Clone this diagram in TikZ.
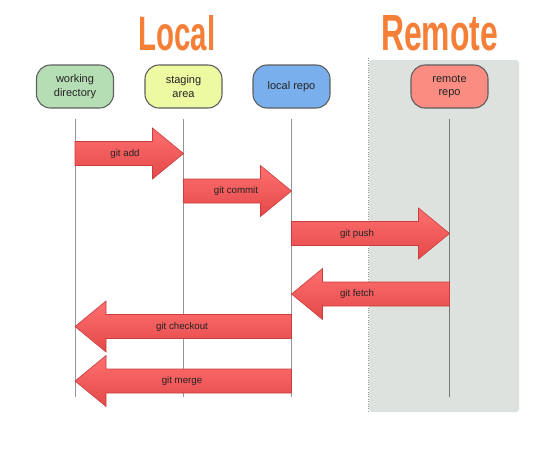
\documentclass[tikz,border=0pt]{standalone}
\usepackage{fontspec}
\setmainfont{Liberation Sans}
\usepackage{graphicx}
\usetikzlibrary{calc}
\definecolor{orangeT}{RGB}{245,127,55}
\definecolor{remotebg}{RGB}{221,226,222}
\definecolor{boxborder}{RGB}{95,95,95}
\definecolor{lifegray}{RGB}{150,150,150}
\definecolor{lifedark}{RGB}{120,120,120}
\definecolor{textdark}{RGB}{35,35,35}
\definecolor{wdfill}{RGB}{182,222,180}
\definecolor{safill}{RGB}{238,250,162}
\definecolor{lrfill}{RGB}{122,175,238}
\definecolor{rrfill}{RGB}{250,140,130}
\definecolor{arrowtop}{RGB}{255,112,112}
\definecolor{arrowbottom}{RGB}{228,72,72}
\definecolor{arrowborder}{RGB}{200,62,62}
\newcommand\gitarrow[5]{%
  \coordinate (t) at (#1 |- 0,#3);
  \coordinate (h) at (#2 |- 0,#3);
  \coordinate (b) at ($(h)!31pt!(t)$);
  \draw[garrow] ($(t)+(0,-12)$) -- ($(b)+(0,-12)$) -- ($(b)+(0,-25.5)$) -- (h)
     -- ($(b)+(0,25.5)$) -- ($(b)+(0,12)$) -- ($(t)+(0,12)$) -- cycle;
  \node[glabel] at (#4,#3) {#5};}
\begin{document}
\begin{tikzpicture}[x=1pt,y=-1pt,
  box/.style={draw=boxborder, line width=1.1pt, rounded corners=14pt,
    minimum width=77pt, minimum height=43pt, align=center, inner sep=0pt,
    font=\fontsize{11}{13.5}\selectfont, text=textdark},
  lifeline/.style={draw=lifegray, line width=0.8pt},
  garrow/.style={draw=arrowborder, line width=0.6pt, top color=arrowtop, bottom color=arrowbottom},
  glabel/.style={font=\fontsize{9.7}{11}\selectfont, text=textdark, inner sep=0pt},
  title/.style={text=orangeT, inner sep=0pt, font=\bfseries}]
\useasboundingbox (0,0) rectangle (553,451);
\fill[white] (0,0) rectangle (553,451);
% remote area
\fill[remotebg, rounded corners=3pt] (369,60) rectangle (519,412);
\draw[dotted, lifegray] (368,58) -- (368,413);
% titles
\node[title, anchor=base west] (tlocal) at (138,50) {\resizebox{77pt}{35pt}{Local}};
\node[title, anchor=base west] (tremote) at (381,50) {\resizebox{117pt}{35pt}{Remote}};
% participants
\node[box, fill=wdfill] (wd) at (75,86.5) {working\\directory};
\node[box, fill=safill] (sa) at (183.5,86.5) {staging\\area};
\node[box, fill=lrfill] (lr) at (291.5,86.5) {local repo};
\node[box, fill=rrfill] (rr) at (449.5,86.5) {remote\\repo};
% lifelines
\coordinate (bot) at (0,397);
\draw[lifeline] ($(wd.south)+(0,10)$) -- (wd.south |- bot);
\draw[lifeline] ($(sa.south)+(0,10)$) -- (sa.south |- bot);
\draw[lifeline] ($(lr.south)+(0,10)$) -- (lr.south |- bot);
\draw[lifeline, draw=lifedark, line width=1.2pt] ($(rr.south)+(0,10)$) -- (rr.south |- bot);
% arrows
\gitarrow{wd}{sa}{153.5}{125}{git add}
\gitarrow{sa}{lr}{191}{236}{git commit}
\gitarrow{lr}{rr}{233.5}{357}{git push}
\gitarrow{rr}{lr}{294}{357}{git fetch}
\gitarrow{lr}{wd}{326.5}{182}{git checkout}
\gitarrow{lr}{wd}{381}{182}{git merge}
\end{tikzpicture}
\end{document}
